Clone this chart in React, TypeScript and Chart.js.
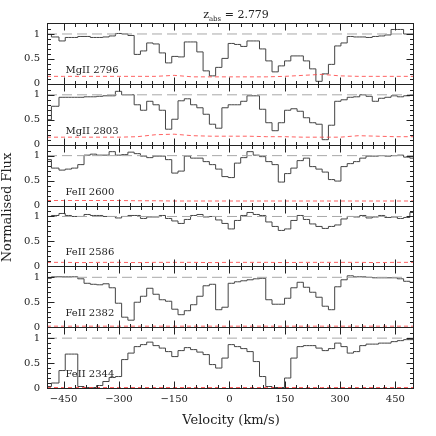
import React, { useEffect, useRef } from 'react';
import { Chart, registerables } from 'chart.js';

Chart.register(...registerables);

// ---------- data ----------
const VELOCITY = [
  -495, -471, -454, -437, -420, -403, -386, -369, -352, -335,
  -318, -301, -284, -267, -250, -233, -216, -199, -182, -165,
  -148, -131, -114, -97, -80, -63, -46, -29, -12, 5,
  22, 39, 56, 73, 90, 107, 124, 141, 158, 175,
  192, 209, 226, 243, 260, 277, 294, 311, 328, 345,
  362, 379, 396, 413, 430, 447, 464, 481, 498,
];

const FLUX_MGII_2796 = [
  0.99, 0.94, 0.86, 0.93, 0.93, 0.95, 0.95, 0.93, 0.93, 0.94,
  0.96, 1.01, 1.0, 0.97, 0.59, 0.66, 0.82, 0.80, 0.62, 0.42,
  0.55, 0.54, 0.84, 0.84, 0.64, 0.26, 0.16, 0.33, 0.51, 0.81,
  0.79, 0.75, 0.86, 0.86, 0.70, 0.46, 0.24, 0.36, 0.46, 0.56,
  0.56, 0.46, 0.30, 0.05, 0.20, 0.39, 0.76, 0.82, 0.95, 0.94,
  0.94, 0.93, 0.95, 0.96, 0.98, 1.09, 1.09, 1.0, 1.0,
];
const FLUX_MGII_2803 = [
  0.50, 0.77, 0.95, 0.95, 0.95, 0.95, 0.96, 0.96, 0.97, 0.98,
  0.98, 1.07, 1.0, 1.0, 0.80, 0.69, 0.87, 0.80, 0.69, 0.31,
  0.51, 0.88, 0.92, 0.80, 0.74, 0.61, 0.41, 0.33, 0.74, 0.80,
  0.80, 0.87, 0.98, 0.98, 0.71, 0.44, 0.28, 0.44, 0.69, 0.72,
  0.67, 0.54, 0.44, 0.41, 0.10, 0.39, 0.87, 0.90, 0.95, 0.96,
  1.0, 0.97, 0.87, 0.93, 0.95, 0.98, 0.96, 0.98, 1.0,
];
const FLUX_FEII_2600 = [
  0.92, 0.75, 0.71, 0.73, 0.75, 0.82, 1.01, 1.03, 1.01, 1.01,
  1.08, 1.01, 1.02, 1.07, 1.04, 0.99, 0.96, 0.99, 0.99, 0.92,
  0.65, 0.69, 0.99, 0.95, 0.95, 0.88, 0.82, 0.73, 0.58, 0.56,
  0.85, 0.96, 1.08, 1.01, 0.98, 0.88, 0.82, 0.47, 0.64, 0.75,
  0.90, 0.95, 0.78, 0.73, 0.67, 0.52, 0.49, 0.78, 0.84, 0.88,
  0.95, 0.99, 0.99, 1.0, 0.99, 1.0, 1.01, 0.97, 0.95,
];
const FLUX_FEII_2586 = [
  1.0, 1.02, 1.06, 1.02, 1.0, 1.0, 1.04, 1.02, 1.02, 1.0,
  1.0, 0.97, 1.0, 1.02, 1.02, 0.96, 0.99, 0.99, 1.02, 0.96,
  0.91, 0.86, 0.94, 1.02, 1.04, 0.99, 1.0, 0.93, 0.86, 0.75,
  0.92, 1.02, 1.08, 1.04, 1.02, 0.89, 0.80, 0.72, 0.75, 0.92,
  1.02, 0.94, 0.85, 0.80, 0.76, 0.80, 0.83, 0.95, 1.0, 0.99,
  1.02, 0.97, 0.99, 1.02, 0.98, 0.99, 0.96, 0.98, 1.08,
];
const FLUX_FEII_2382 = [
  0.98, 1.01, 1.01, 1.01, 1.01, 0.97, 0.88, 0.86, 0.85, 0.87,
  0.79, 0.48, 0.20, 0.14, 0.50, 0.62, 0.78, 0.66, 0.55, 0.52,
  0.36, 0.25, 0.33, 0.45, 0.62, 0.83, 0.86, 0.35, 0.40, 0.88,
  0.91, 0.93, 0.95, 0.97, 0.98, 0.55, 0.46, 0.46, 0.58, 0.79,
  0.90, 0.80, 0.70, 0.60, 0.42, 0.35, 0.81, 0.95, 1.03, 1.01,
  1.01, 1.0, 0.99, 0.99, 0.99, 0.99, 0.97, 0.92, 0.90,
];
const FLUX_FEII_2344 = [
  0.03, 0.10, 0.35, 0.68, 0.68, 0.03, 0.01, 0.01, 0.05, 0.13,
  0.21, 0.23, 0.57, 0.70, 0.83, 0.87, 0.92, 0.85, 0.80, 0.73,
  0.63, 0.75, 0.81, 0.77, 0.72, 0.67, 0.47, 0.40, 0.60, 0.87,
  0.83, 0.79, 0.73, 0.53, 0.23, 0.03, 0.01, 0.01, 0.20, 0.60,
  0.83, 0.85, 0.85, 0.80, 0.75, 0.79, 0.90, 0.83, 0.70, 0.73,
  0.85, 0.88, 0.88, 0.90, 0.90, 0.93, 0.95, 0.97, 0.97,
];

const ERROR_VELOCITY = [
  -495, -450, -400, -350, -300, -250, -200, -150, -100, -50,
  0, 50, 100, 150, 200, 250, 300, 350, 400, 450, 498,
];
const ERR_MGII_2796 = [0.15, 0.15, 0.15, 0.15, 0.15, 0.15, 0.15, 0.17, 0.14, 0.14, 0.14, 0.14, 0.14, 0.15, 0.17, 0.19, 0.16, 0.15, 0.15, 0.15, 0.15];
const ERR_MGII_2803 = [0.15, 0.15, 0.15, 0.15, 0.15, 0.16, 0.20, 0.21, 0.18, 0.17, 0.17, 0.17, 0.16, 0.16, 0.15, 0.15, 0.15, 0.18, 0.17, 0.16, 0.16];
const ERR_FEII_2600 = [0.10, 0.10, 0.10, 0.10, 0.10, 0.095, 0.095, 0.09, 0.09, 0.09, 0.09, 0.09, 0.09, 0.09, 0.09, 0.09, 0.09, 0.09, 0.09, 0.09, 0.09];
const ERR_FEII_2586 = [0.08, 0.08, 0.075, 0.08, 0.08, 0.075, 0.08, 0.08, 0.08, 0.075, 0.08, 0.08, 0.08, 0.075, 0.08, 0.08, 0.08, 0.08, 0.075, 0.08, 0.08];
const ERR_FEII_2382 = [0.02, 0.02, 0.02, 0.02, 0.02, 0.02, 0.02, 0.02, 0.02, 0.02, 0.02, 0.02, 0.02, 0.02, 0.02, 0.02, 0.02, 0.02, 0.02, 0.02, 0.02];
const ERR_FEII_2344 = [0.01, 0.01, 0.01, 0.01, 0.01, 0.01, 0.01, 0.01, 0.01, 0.01, 0.01, 0.01, 0.01, 0.01, 0.01, 0.01, 0.01, 0.01, 0.01, 0.01, 0.01];

const PANEL_LABELS = ['MgII 2796', 'MgII 2803', 'FeII 2600', 'FeII 2586', 'FeII 2382', 'FeII 2344'];
const PANEL_FLUX = [FLUX_MGII_2796, FLUX_MGII_2803, FLUX_FEII_2600, FLUX_FEII_2586, FLUX_FEII_2382, FLUX_FEII_2344];
const PANEL_ERR = [ERR_MGII_2796, ERR_MGII_2803, ERR_FEII_2600, ERR_FEII_2586, ERR_FEII_2382, ERR_FEII_2344];

const X_MIN = -495;
const X_MAX = 498;
const Y_MIN = 0;
const Y_MAX = 1.22;
const CONTINUUM = 1;
const Y_TICK_LABELS = [0, 0.5, 1];
const X_MAJOR = 150;
const X_MINOR = 30;
const LABEL_VELOCITY = -445;
const TITLE_Z = '2.779';
const X_TITLE = 'Velocity (km/s)';
const Y_TITLE = 'Normalised Flux';

const FONT = '"DejaVu Serif", serif';
const INK = '#222';

const framePlugin = {
  id: 'framePlugin',
  afterDatasetsDraw(chart: any) {
    const ctx = chart.ctx as CanvasRenderingContext2D;
    const xs = chart.scales.x;
    const left = xs.left;
    const right = xs.right;
    const line = (x1: number, y1: number, x2: number, y2: number) => {
      ctx.beginPath();
      ctx.moveTo(x1, y1);
      ctx.lineTo(x2, y2);
      ctx.stroke();
    };
    ctx.save();
    ctx.strokeStyle = INK;
    ctx.lineWidth = 1;
    PANEL_LABELS.forEach((label, i) => {
      const ys = chart.scales['y' + i];
      const top = Math.round(ys.top) + 0.5;
      const bottom = Math.round(ys.bottom) + 0.5;
      const l = Math.round(left) + 0.5;
      const r = Math.round(right) + 0.5;
      ctx.strokeRect(l, top, r - l, bottom - top);
      xs.ticks.forEach((t: any) => {
        const v = t.value;
        const rv = Math.round(v);
        if (Math.abs(v - rv) > 1e-6 || rv % X_MINOR !== 0) return;
        const len = rv % X_MAJOR === 0 ? 7 : 3.5;
        const px = Math.round(xs.getPixelForValue(v)) + 0.5;
        line(px, bottom, px, bottom - len);
        line(px, top, px, top + len);
      });
      ys.ticks.forEach((t: any) => {
        const v = t.value;
        const k = Math.round(v * 10);
        if (Math.abs(v * 10 - k) > 1e-6) return;
        const len = k % 5 === 0 ? 7 : 3.5;
        const py = Math.round(ys.getPixelForValue(v)) + 0.5;
        line(l, py, l + len, py);
        line(r, py, r - len, py);
      });
      ctx.fillStyle = INK;
      ctx.font = '10px ' + FONT;
      ctx.textAlign = 'left';
      ctx.textBaseline = 'alphabetic';
      ctx.fillText(label, xs.getPixelForValue(LABEL_VELOCITY), ys.bottom - 11);
    });

    // title z_abs = 2.779
    const top0 = chart.scales.y0.top;
    ctx.fillStyle = INK;
    ctx.textBaseline = 'alphabetic';
    ctx.textAlign = 'left';
    const big = '11px ' + FONT;
    const small = '7px ' + FONT;
    ctx.font = big;
    const wz = ctx.measureText('z').width;
    const wrest = ctx.measureText(' = ' + TITLE_Z).width;
    ctx.font = small;
    const wsub = ctx.measureText('abs').width;
    const total = wz + wsub + wrest;
    let x0 = (left + right) / 2 + 6 - total / 2;
    const base = top0 - 5;
    ctx.font = big;
    ctx.fillText('z', x0, base);
    x0 += wz;
    ctx.font = small;
    ctx.fillText('abs', x0, base + 2.5);
    x0 += wsub;
    ctx.font = big;
    ctx.fillText(' = ' + TITLE_Z, x0, base);

    // x title
    ctx.font = '13px ' + FONT;
    ctx.textAlign = 'center';
    ctx.textBaseline = 'middle';
    ctx.fillText(X_TITLE, (left + right) / 2 + 1, 421);

    // y title
    const ys0 = chart.scales.y0;
    const ys5 = chart.scales.y5;
    ctx.translate(8, (ys0.top + ys5.bottom) / 2 + 2);
    ctx.rotate(-Math.PI / 2);
    ctx.fillText(Y_TITLE, 0, 0);
    ctx.restore();
  },
};

export default function App() {
  const ref = useRef<HTMLCanvasElement | null>(null);

  useEffect(() => {
    document.body.style.margin = '0';
    const canvas = ref.current;
    if (!canvas) return;

    const datasets: any[] = [];
    const scales: any = {
      x: {
        type: 'linear',
        position: 'bottom',
        min: X_MIN,
        max: X_MAX,
        grid: { display: false, drawTicks: false },
        border: { display: false },
        ticks: {
          stepSize: X_MINOR,
          autoSkip: false,
          maxRotation: 0,
          padding: 5,
          color: INK,
          font: { family: FONT, size: 10 },
          callback: (v: any) => {
            const n = Number(v);
            if (Math.abs(n - Math.round(n)) > 1e-6 || Math.round(n) % X_MAJOR !== 0) return '';
            return n < 0 ? '\u2212' + Math.abs(n) : String(n);
          },
        },
        afterFit: (s: any) => {
          s.height = 48;
        },
      },
    };

    PANEL_LABELS.forEach((label, i) => {
      const yid = 'y' + i;
      scales[yid] = {
        type: 'linear',
        position: 'left',
        stack: 'panels',
        stackWeight: 1,
        weight: PANEL_LABELS.length - i,
        min: Y_MIN,
        max: Y_MAX,
        grid: { display: false, drawTicks: false },
        border: { display: false },
        ticks: {
          stepSize: 0.1,
          autoSkip: false,
          padding: 7,
          color: INK,
          font: { family: FONT, size: 10 },
          callback: (v: any) => {
            const n = Number(v);
            const hit = Y_TICK_LABELS.find((t) => Math.abs(t - n) < 1e-6);
            return hit === undefined ? '' : String(hit);
          },
        },
        afterFit: (s: any) => {
          s.width = 47;
        },
      };
      datasets.push({
        label: label + ' continuum',
        data: [
          { x: X_MIN, y: CONTINUUM },
          { x: X_MAX, y: CONTINUUM },
        ],
        xAxisID: 'x',
        yAxisID: yid,
        borderColor: '#a8a8a8',
        borderWidth: 1,
        borderDash: [10, 5],
        pointRadius: 0,
        fill: false,
      });
      datasets.push({
        label: label + ' error',
        data: ERROR_VELOCITY.map((x, j) => ({ x, y: PANEL_ERR[i][j] })),
        xAxisID: 'x',
        yAxisID: yid,
        borderColor: 'rgba(255,70,70,0.85)',
        borderWidth: 1,
        borderDash: [4, 3],
        pointRadius: 0,
        fill: false,
      });
      datasets.push({
        label: label,
        data: VELOCITY.map((x, j) => ({ x, y: PANEL_FLUX[i][j] })),
        xAxisID: 'x',
        yAxisID: yid,
        borderColor: '#444',
        borderWidth: 1,
        stepped: 'middle',
        pointRadius: 0,
        fill: false,
      });
    });

    const chart = new Chart(canvas, {
      type: 'line',
      data: { datasets },
      options: {
        animation: false,
        responsive: false,
        devicePixelRatio: 1,
        layout: { padding: { top: 23, right: 23, left: 0, bottom: 0 } },
        plugins: {
          legend: { display: false },
          tooltip: { enabled: false },
          title: { display: false },
        },
        scales,
      },
      plugins: [framePlugin],
    } as any);

    return () => chart.destroy();
  }, []);

  return (
    <div style={{ width: 436, height: 436 }}>
      <canvas ref={ref} width={436} height={436} style={{ display: 'block' }} />
    </div>
  );
}
